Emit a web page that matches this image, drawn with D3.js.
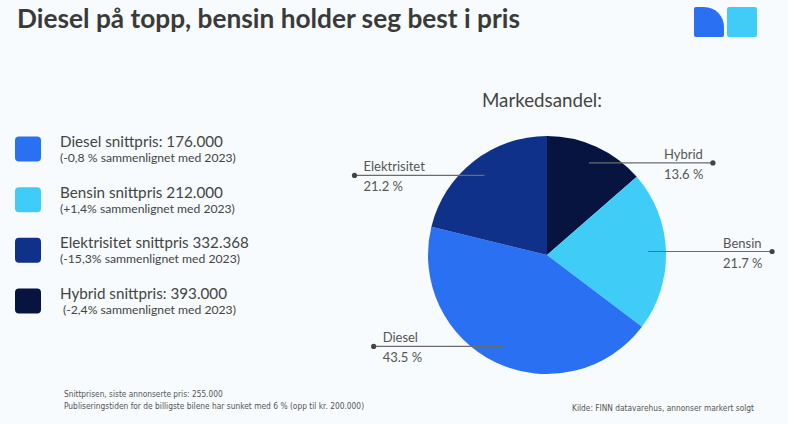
<!DOCTYPE html>
<html>
<head>
<meta charset="utf-8">
<script src="https://cdn.jsdelivr.net/npm/d3@7"></script>
<style>
  html, body { margin: 0; padding: 0; background: #f7fbfd; }
  svg { display: block; }
</style>
</head>
<body>
<div id="chart"></div>
<script>
// ---- data ----
const categories = ["Hybrid", "Bensin", "Diesel", "Elektrisitet"];
const shares = [13.6, 21.7, 43.5, 21.2];
const shareLabels = ["13.6 %", "21.7 %", "43.5 %", "21.2 %"];
const legendNames = ["Diesel snittpris: 176.000", "Bensin snittpris 212.000", "Elektrisitet snittpris 332.368", "Hybrid snittpris: 393.000"];
const legendNotes = ["(-0,8 % sammenlignet med 2023)", "(+1,4% sammenlignet med 2023)", "(-15,3% sammenlignet med 2023)", "(-2,4% sammenlignet med 2023)"];
const legendKeys = ["Diesel", "Bensin", "Elektrisitet", "Hybrid"];
const titleText = "Diesel på topp, bensin holder seg best i pris";
const pieTitle = "Markedsandel:";
const footLines = ["Snittprisen, siste annonserte pris: 255.000", "Publiseringstiden for de billigste bilene har sunket med 6 % (opp til kr. 200.000)"];
const sourceText = "Kilde: FINN datavarehus, annonser markert solgt";

// ---- styling ----
const W = 788, H = 424;
const color = d3.scaleOrdinal()
  .domain(["Hybrid", "Bensin", "Diesel", "Elektrisitet"])
  .range(["#06143f", "#3fcdf8", "#2970f3", "#103189"]);
const FONT = "Lato, 'Open Sans', sans-serif";
// target text widths (layout)
const nameWidths = [163, 163, 189, 167];
const noteWidths = [176, 175, 180, 173];
const noteX = [60, 60, 60, 63];

const svg = d3.select("#chart").append("svg").attr("width", W).attr("height", H);
svg.append("rect").attr("width", W).attr("height", H).attr("fill", "#f7fbfd");

function fit(sel, target) {
  const node = sel.node();
  const w = node.getComputedTextLength();
  const fs = parseFloat(sel.attr("font-size"));
  if (w > 0) sel.attr("font-size", (fs * target / w).toFixed(2));
}

// title
const title = svg.append("text").attr("x", 17).attr("y", 28)
  .attr("font-family", FONT).attr("font-weight", 700).attr("font-size", 22)
  .attr("fill", "#3a3a3a").text(titleText);
fit(title, 503);

// logo
const logo = svg.append("g");
logo.append("path")
  .attr("d", "M694,9 a2,2 0 0 1 2,-2 H704 A20,20 0 0 1 724,27 V35 a2,2 0 0 1 -2,2 H696 a2,2 0 0 1 -2,-2 Z")
  .attr("fill", "#2970f3");
logo.append("rect").attr("x", 727).attr("y", 7).attr("width", 30).attr("height", 30).attr("rx", 2)
  .attr("fill", "#3fcdf8");

// legend
const leg = svg.append("g");
const ly = d3.scalePoint().domain(legendKeys).range([149, 301]);
legendKeys.forEach((k, i) => {
  const y = ly(k);
  leg.append("rect").attr("x", 15).attr("y", y - 12.5).attr("width", 26).attr("height", 25)
    .attr("rx", 4).attr("fill", color(k));
  const t1 = leg.append("text").attr("x", 60).attr("y", y - 2)
    .attr("font-family", FONT).attr("font-size", 15).attr("fill", "#444").text(legendNames[i]);
  fit(t1, nameWidths[i]);
  const t2 = leg.append("text").attr("x", noteX[i]).attr("y", y + 13)
    .attr("font-family", FONT).attr("font-size", 11).attr("fill", "#444").text(legendNotes[i]);
  fit(t2, noteWidths[i]);
});

// pie
const cx = 547, cy = 255, R = 119;
const pieData = categories.map((c, i) => ({ cat: c, value: shares[i], label: shareLabels[i] }));
const pie = d3.pie().sort(null).value(d => d.value);
const arcs = pie(pieData);
const arc = d3.arc().innerRadius(0).outerRadius(R);
const g = svg.append("g").attr("transform", `translate(${cx},${cy})`);
g.selectAll("path.slice").data(arcs).join("path").attr("class", "slice")
  .attr("d", arc).attr("fill", d => color(d.data.cat));

const pt = svg.append("text").attr("x", 482).attr("y", 107)
  .attr("font-family", FONT).attr("font-size", 18).attr("fill", "#444").text(pieTitle);
fit(pt, 120);

// leader labels
const lead = svg.append("g");
arcs.forEach(d => {
  const a = (d.startAngle + d.endAngle) / 2;
  const r0 = R * 0.85;
  const x0 = cx + r0 * Math.sin(a), y0 = cy - r0 * Math.cos(a);
  const right = Math.sin(a) > 0;
  const x1 = right ? x0 + 124 : x0 - 130;
  lead.append("line").attr("x1", x0).attr("y1", y0).attr("x2", x1).attr("y2", y0)
    .attr("stroke", "#6b6b6b").attr("stroke-width", 1.2);
  lead.append("circle").attr("cx", x1).attr("cy", y0).attr("r", 2.6).attr("fill", "#444");
  const tx = right ? x1 - 49 : x1 + 9;
  lead.append("text").attr("x", tx).attr("y", y0 - 4)
    .attr("font-family", FONT).attr("font-size", 13).attr("fill", "#555").text(d.data.cat);
  lead.append("text").attr("x", tx).attr("y", y0 + 16)
    .attr("font-family", FONT).attr("font-size", 13).attr("fill", "#555").text(d.data.label);
});

// footnotes
const FN = "'Liberation Sans Narrow', 'DejaVu Sans Condensed', sans-serif";
const f1 = svg.append("text").attr("x", 64).attr("y", 397).attr("font-family", FN)
  .attr("font-size", 9).attr("fill", "#555").text(footLines[0]);
fit(f1, 159);
const f2 = svg.append("text").attr("x", 64).attr("y", 409).attr("font-family", FN)
  .attr("font-size", 9).attr("fill", "#555").text(footLines[1]);
fit(f2, 300);
const f3 = svg.append("text").attr("x", 572).attr("y", 411).attr("font-family", FN)
  .attr("font-size", 9).attr("fill", "#555").text(sourceText);
fit(f3, 182);
</script>
</body>
</html>
